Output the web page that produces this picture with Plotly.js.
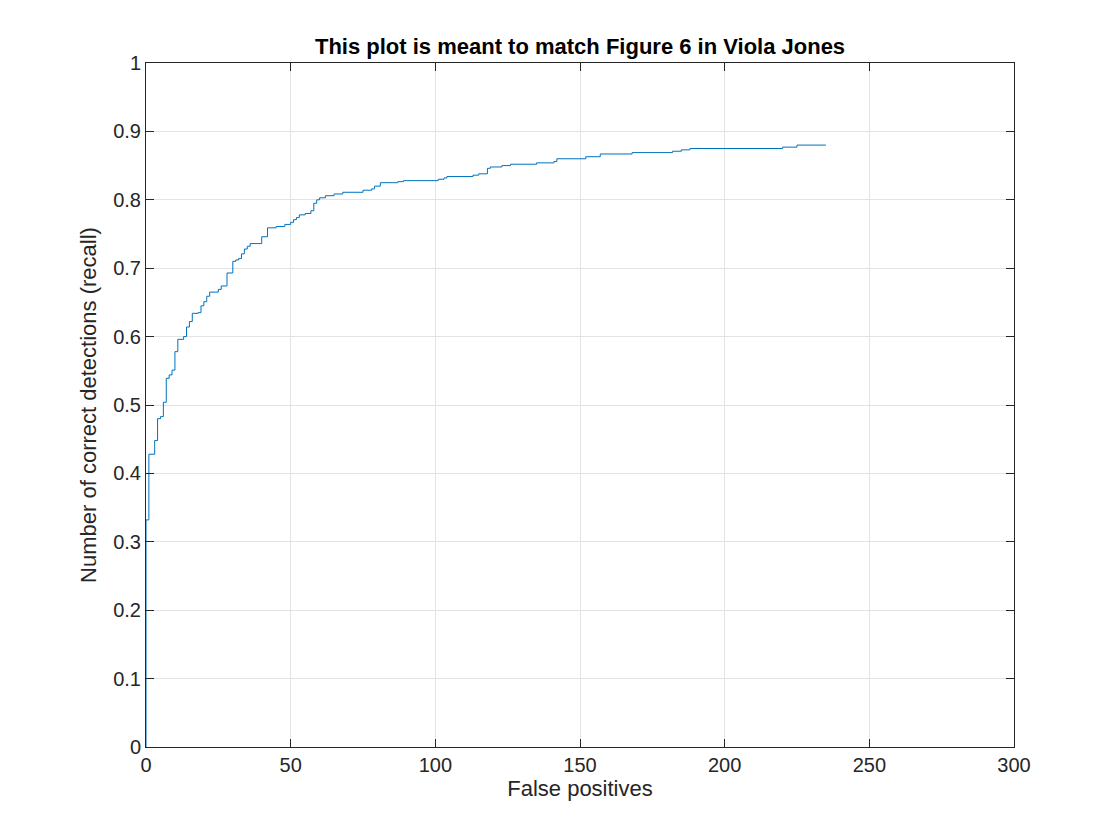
<!DOCTYPE html>
<html>
<head>
<meta charset="utf-8">
<script src="https://cdn.plot.ly/plotly-3.0.1.min.js"></script>
<style>html,body{margin:0;padding:0;background:#fff;}#chart{width:1120px;height:840px;}</style>
</head>
<body>
<div id="chart"></div>
<script>
// False positive counts (x) at which recall steps up
const falsePositives = [0, 0, 1, 3, 4, 5, 6, 7, 8, 9, 10, 11, 13, 14, 15, 16, 18, 19, 20, 21, 22, 25, 26, 28, 30, 31, 32, 33, 34, 35, 36, 40, 42, 45, 48, 50, 51, 52, 53, 55, 57, 58, 59, 60, 62, 65, 68, 75, 78, 79, 81, 87, 89, 101, 103, 104, 113, 115, 118, 119, 123, 126, 135, 141, 142, 152, 157, 168, 182, 185, 188, 220, 225, 235];
// Recall (fraction of correct detections) reached at each step
const recall = [0, 0.332, 0.428, 0.448, 0.480, 0.483, 0.504, 0.539, 0.544, 0.551, 0.578, 0.596, 0.600, 0.614, 0.622, 0.634, 0.635, 0.645, 0.651, 0.659, 0.665, 0.669, 0.674, 0.693, 0.710, 0.712, 0.714, 0.721, 0.728, 0.732, 0.736, 0.746, 0.759, 0.761, 0.764, 0.767, 0.771, 0.774, 0.778, 0.780, 0.784, 0.795, 0.800, 0.803, 0.806, 0.8085, 0.811, 0.814, 0.816, 0.820, 0.825, 0.8265, 0.828, 0.830, 0.832, 0.834, 0.836, 0.838, 0.846, 0.848, 0.850, 0.852, 0.854, 0.856, 0.860, 0.863, 0.867, 0.869, 0.871, 0.873, 0.875, 0.877, 0.880, 0.880];

const titleText = "This plot is meant to match Figure 6 in Viola Jones";
const xTitle = "False positives";
const yTitle = "Number of correct detections (recall)";
const xTicks = [0, 50, 100, 150, 200, 250, 300];
const yTicks = [0, 0.1, 0.2, 0.3, 0.4, 0.5, 0.6, 0.7, 0.8, 0.9, 1];
const yTickText = ["0", "0.1", "0.2", "0.3", "0.4", "0.5", "0.6", "0.7", "0.8", "0.9", "1"];

const font = "Helvetica, 'Liberation Sans', Arial, sans-serif";
const axisCommon = {
  showline: true, linecolor: "#262626", linewidth: 1, mirror: "ticks",
  ticks: "inside", ticklen: 8, tickcolor: "#262626", tickwidth: 1,
  showgrid: true, gridcolor: "#e3e3e3", gridwidth: 1, zeroline: false,
  tickfont: {family: font, size: 20, color: "#262626"}
};

const trace = {
  x: falsePositives, y: recall, type: "scatter", mode: "lines",
  line: {shape: "hv", color: "#0072BD", width: 1},
  hoverinfo: "x+y"
};

const layout = {
  width: 1120, height: 840,
  paper_bgcolor: "#fff", plot_bgcolor: "#fff",
  margin: {l: 146, r: 106, t: 63, b: 93, pad: 0},
  showlegend: false,
  title: {text: "<b>" + titleText + "</b>", x: 0.5179, xanchor: "center", y: 0.945, yanchor: "middle",
          font: {family: font, size: 22, color: "#000"}},
  xaxis: Object.assign({}, axisCommon, {
    range: [0, 300], tickvals: xTicks, ticktext: xTicks.map(String),
    title: {text: xTitle, font: {family: font, size: 22, color: "#262626"}, standoff: 2}
  }),
  yaxis: Object.assign({}, axisCommon, {
    range: [0, 1], tickvals: yTicks, ticktext: yTickText,
    title: {text: yTitle, font: {family: font, size: 22, color: "#262626"}, standoff: 10}
  })
};

Plotly.newPlot("chart", [trace], layout, {displayModeBar: false, staticPlot: true});
</script>
</body>
</html>
